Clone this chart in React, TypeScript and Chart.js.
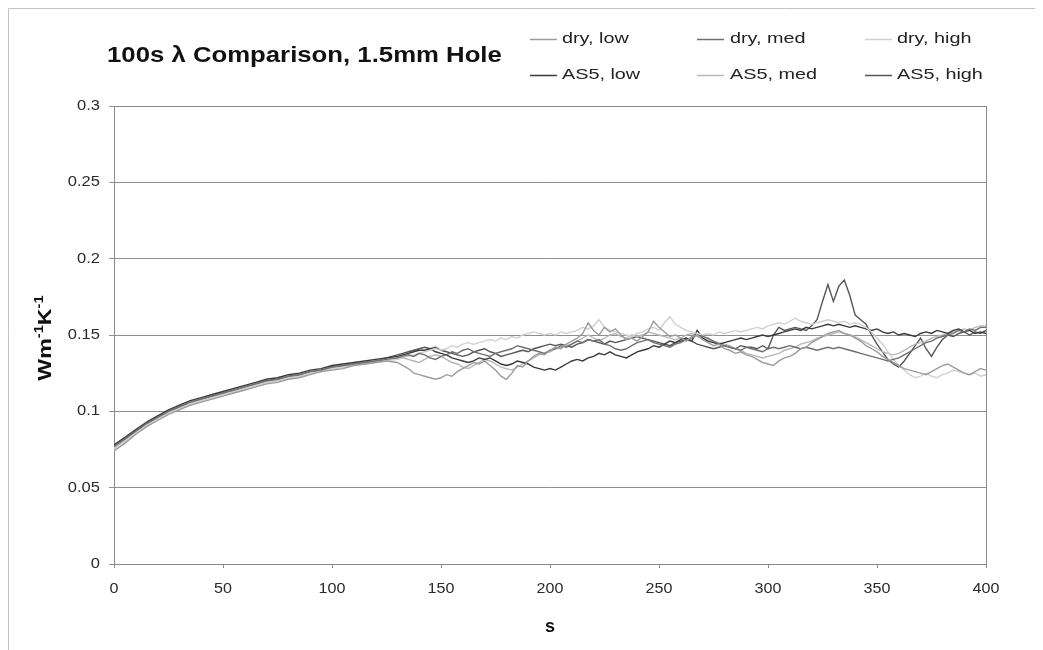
import { useEffect, useRef } from "react";
import { Chart, registerables } from "chart.js";

Chart.register(...registerables);

const chartTitle = "100s λ Comparison, 1.5mm Hole";
const xTitle = "s";
// y-axis unit: W m^-1 K^-1, drawn with raised exponents
const yTitleParts = [
  { text: "Wm", sup: false },
  { text: "-1", sup: true },
  { text: "K", sup: false },
  { text: "-1", sup: true },
];

// elapsed time (s): 5 s steps during the warm-up, 2.5 s steps afterwards
const seconds = [
  0, 5, 10, 15, 20, 25, 30, 35, 40, 45,
  50, 55, 60, 65, 70, 75, 80, 85, 90, 95,
  100, 105, 110, 115, 120, 125, 130,
  132.5, 135, 137.5, 140, 142.5, 145, 147.5, 150,
  152.5, 155, 157.5, 160, 162.5, 165, 167.5, 170,
  172.5, 175, 177.5, 180, 182.5, 185, 187.5, 190,
  192.5, 195, 197.5, 200, 202.5, 205, 207.5, 210,
  212.5, 215, 217.5, 220, 222.5, 225, 227.5, 230,
  232.5, 235, 237.5, 240, 242.5, 245, 247.5, 250,
  252.5, 255, 257.5, 260, 262.5, 265, 267.5, 270,
  272.5, 275, 277.5, 280, 282.5, 285, 287.5, 290,
  292.5, 295, 297.5, 300, 302.5, 305, 307.5, 310,
  312.5, 315, 317.5, 320, 322.5, 325, 327.5, 330,
  332.5, 335, 337.5, 340, 342.5, 345, 347.5, 350,
  352.5, 355, 357.5, 360, 362.5, 365, 367.5, 370,
  372.5, 375, 377.5, 380, 382.5, 385, 387.5, 390,
  392.5, 395, 397.5, 400,
];

// thermal conductivity (W m^-1 K^-1)
const dryLow = [
  0.074, 0.079, 0.085, 0.090, 0.094, 0.098, 0.101, 0.104, 0.106, 0.108,
  0.110, 0.112, 0.114, 0.116, 0.118, 0.119, 0.121, 0.122, 0.124, 0.126,
  0.127, 0.128, 0.130, 0.131, 0.132, 0.133, 0.132,
  0.130, 0.128, 0.125, 0.124, 0.123, 0.122, 0.121, 0.122,
  0.124, 0.123, 0.126, 0.128, 0.130, 0.132, 0.131, 0.133,
  0.130, 0.127, 0.123, 0.121, 0.125, 0.130, 0.129, 0.133,
  0.136, 0.138, 0.137, 0.140, 0.142, 0.141, 0.144, 0.146,
  0.148, 0.151, 0.158, 0.153, 0.150, 0.155, 0.152, 0.154,
  0.150, 0.147, 0.148, 0.146, 0.149, 0.152, 0.159, 0.155,
  0.152, 0.149, 0.150, 0.148, 0.146, 0.149, 0.150, 0.147,
  0.145, 0.143, 0.144, 0.141, 0.140, 0.138, 0.139, 0.137,
  0.136, 0.134, 0.132, 0.131, 0.130, 0.133, 0.135, 0.136,
  0.138, 0.141, 0.142, 0.145, 0.147, 0.149, 0.151, 0.152,
  0.153, 0.151, 0.150, 0.148, 0.146, 0.143, 0.141, 0.139,
  0.136, 0.134, 0.132, 0.130, 0.128, 0.127, 0.126, 0.125,
  0.124, 0.126, 0.128, 0.130, 0.131, 0.129, 0.127, 0.125,
  0.124, 0.126, 0.128, 0.127,
];

const dryMed = [
  0.077, 0.082, 0.087, 0.092, 0.096, 0.100, 0.103, 0.106, 0.108, 0.110,
  0.112, 0.114, 0.116, 0.118, 0.120, 0.121, 0.123, 0.124, 0.126, 0.127,
  0.129, 0.130, 0.131, 0.132, 0.133, 0.134, 0.135,
  0.136, 0.137, 0.136, 0.138, 0.137, 0.135, 0.134, 0.136,
  0.137, 0.139, 0.138, 0.140, 0.141, 0.139, 0.138, 0.137,
  0.136, 0.138, 0.139, 0.140, 0.141, 0.143, 0.142, 0.141,
  0.140, 0.139, 0.138, 0.140, 0.141, 0.143, 0.142, 0.144,
  0.146, 0.145, 0.147, 0.146, 0.147, 0.144, 0.143, 0.141,
  0.140, 0.141, 0.143, 0.145, 0.146, 0.147, 0.145, 0.144,
  0.143, 0.142, 0.144, 0.145, 0.147, 0.148, 0.150, 0.149,
  0.148, 0.146, 0.144, 0.143, 0.142, 0.141, 0.140, 0.142,
  0.141, 0.140, 0.139, 0.141, 0.142, 0.141, 0.142, 0.143,
  0.142, 0.141, 0.142, 0.141, 0.140, 0.141, 0.142, 0.141,
  0.142, 0.141, 0.140, 0.139, 0.138, 0.137, 0.136, 0.135,
  0.134, 0.133, 0.134, 0.135, 0.137, 0.139, 0.141, 0.143,
  0.145, 0.146, 0.148, 0.149, 0.150, 0.151, 0.153, 0.152,
  0.154, 0.153, 0.155, 0.155,
];

const dryHigh = [
  0.075, 0.080, 0.086, 0.091, 0.095, 0.099, 0.102, 0.105, 0.107, 0.109,
  0.111, 0.113, 0.115, 0.117, 0.119, 0.120, 0.122, 0.123, 0.125, 0.126,
  0.128, 0.129, 0.130, 0.131, 0.132, 0.133, 0.134,
  0.135, 0.136, 0.137, 0.138, 0.139, 0.140, 0.141, 0.140,
  0.141, 0.143, 0.142, 0.144, 0.145, 0.144, 0.145, 0.146,
  0.147, 0.146, 0.148, 0.147, 0.149, 0.148, 0.150, 0.151,
  0.152, 0.151, 0.150, 0.151, 0.150, 0.152, 0.151, 0.152,
  0.153, 0.155, 0.154, 0.156, 0.160, 0.155, 0.153, 0.152,
  0.151, 0.150, 0.149, 0.151, 0.152, 0.154, 0.155, 0.153,
  0.158, 0.162, 0.157, 0.155, 0.153, 0.152, 0.151, 0.150,
  0.151, 0.150, 0.152, 0.151, 0.152, 0.153, 0.152, 0.153,
  0.154, 0.155, 0.154, 0.156, 0.157, 0.158, 0.157, 0.159,
  0.161, 0.159, 0.158, 0.157, 0.158, 0.159, 0.160, 0.159,
  0.158, 0.159, 0.157, 0.158, 0.157, 0.155, 0.152, 0.148,
  0.144, 0.139, 0.134, 0.130, 0.127, 0.124, 0.122, 0.123,
  0.125, 0.123, 0.122, 0.124, 0.125, 0.127, 0.126, 0.125,
  0.124, 0.125, 0.123, 0.124,
];

const as5Low = [
  0.078, 0.083, 0.088, 0.093, 0.097, 0.101, 0.104, 0.107, 0.109, 0.111,
  0.113, 0.115, 0.117, 0.119, 0.121, 0.122, 0.124, 0.125, 0.127, 0.128,
  0.130, 0.131, 0.132, 0.133, 0.134, 0.135, 0.136,
  0.137, 0.138, 0.139, 0.140, 0.140, 0.141, 0.139, 0.138,
  0.137, 0.135, 0.134, 0.133, 0.132, 0.133, 0.135, 0.134,
  0.135, 0.133, 0.131, 0.130, 0.131, 0.133, 0.132, 0.131,
  0.129, 0.128, 0.127, 0.128, 0.127, 0.129, 0.131, 0.133,
  0.134, 0.133, 0.135, 0.136, 0.138, 0.137, 0.139, 0.137,
  0.136, 0.135, 0.137, 0.139, 0.140, 0.141, 0.143, 0.142,
  0.144, 0.146, 0.145, 0.147, 0.148, 0.146, 0.153, 0.148,
  0.146, 0.145, 0.144, 0.145, 0.146, 0.147, 0.148, 0.147,
  0.148, 0.149, 0.150, 0.149, 0.150, 0.151, 0.152, 0.153,
  0.154, 0.153, 0.155, 0.154, 0.155, 0.156, 0.157, 0.156,
  0.157, 0.156, 0.155, 0.156, 0.155, 0.154, 0.153, 0.154,
  0.152, 0.151, 0.152, 0.150, 0.151, 0.150, 0.149, 0.151,
  0.152, 0.151, 0.153, 0.152, 0.151, 0.153, 0.154, 0.152,
  0.153, 0.151, 0.152, 0.151,
];

const as5Med = [
  0.076, 0.081, 0.086, 0.091, 0.095, 0.099, 0.102, 0.105, 0.107, 0.109,
  0.111, 0.113, 0.115, 0.117, 0.119, 0.120, 0.122, 0.123, 0.125, 0.126,
  0.128, 0.129, 0.131, 0.132, 0.133, 0.134, 0.135,
  0.135, 0.134, 0.133, 0.132, 0.134, 0.136, 0.137, 0.136,
  0.134, 0.132, 0.131, 0.129, 0.128, 0.130, 0.132, 0.134,
  0.133, 0.131, 0.129, 0.128, 0.127, 0.129, 0.131, 0.133,
  0.135, 0.137, 0.138, 0.139, 0.141, 0.142, 0.143, 0.144,
  0.146, 0.148, 0.150, 0.148, 0.146, 0.148, 0.150, 0.151,
  0.149, 0.148, 0.150, 0.149, 0.150, 0.152, 0.151, 0.150,
  0.149, 0.148, 0.147, 0.148, 0.150, 0.151, 0.149, 0.148,
  0.147, 0.146, 0.145, 0.144, 0.143, 0.141, 0.140, 0.138,
  0.137, 0.136, 0.135, 0.136, 0.137, 0.138, 0.140, 0.141,
  0.142, 0.144, 0.145, 0.146, 0.148, 0.149, 0.150, 0.151,
  0.152, 0.151, 0.150, 0.149, 0.147, 0.145, 0.143, 0.141,
  0.139, 0.138, 0.137, 0.138, 0.140, 0.142, 0.144, 0.145,
  0.146, 0.148, 0.149, 0.150, 0.151, 0.152, 0.153, 0.154,
  0.153, 0.155, 0.156, 0.156,
];

const as5High = [
  0.077, 0.082, 0.087, 0.092, 0.096, 0.100, 0.103, 0.106, 0.108, 0.110,
  0.112, 0.114, 0.116, 0.118, 0.120, 0.121, 0.123, 0.124, 0.126, 0.127,
  0.129, 0.130, 0.131, 0.132, 0.133, 0.135, 0.137,
  0.138, 0.139, 0.140, 0.141, 0.142, 0.141, 0.142, 0.140,
  0.139, 0.138, 0.137, 0.136, 0.137, 0.139, 0.140, 0.141,
  0.139, 0.138, 0.136, 0.137, 0.138, 0.139, 0.140, 0.139,
  0.141, 0.142, 0.143, 0.144, 0.143, 0.144, 0.143, 0.142,
  0.144, 0.145, 0.147, 0.146, 0.145, 0.144, 0.146, 0.145,
  0.146, 0.147, 0.148, 0.149, 0.148, 0.147, 0.146, 0.145,
  0.144, 0.143, 0.145, 0.146, 0.147, 0.146, 0.144, 0.143,
  0.142, 0.141, 0.142, 0.143, 0.142, 0.141, 0.143, 0.142,
  0.142, 0.141, 0.143, 0.141, 0.150, 0.155, 0.153, 0.154,
  0.155, 0.154, 0.153, 0.156, 0.160, 0.172, 0.183, 0.172,
  0.182, 0.186, 0.176, 0.163, 0.160, 0.157, 0.150, 0.144,
  0.139, 0.134, 0.131, 0.129, 0.133, 0.138, 0.143, 0.148,
  0.141, 0.136, 0.142, 0.147, 0.150, 0.149, 0.151, 0.152,
  0.150, 0.152, 0.151, 0.153,
];

const seriesLabels = ["dry, low", "dry, med", "dry, high", "AS5, low", "AS5, med", "AS5, high"];
const seriesValues = [dryLow, dryMed, dryHigh, as5Low, as5Med, as5High];
const seriesColors = ["#9c9c9c", "#707070", "#d0d0d0", "#3a3a3a", "#b8b8b8", "#555555"];

const yTicks = [0, 0.05, 0.1, 0.15, 0.2, 0.25, 0.3];
const xTicks = [0, 50, 100, 150, 200, 250, 300, 350, 400];

const FONT = "'Liberation Sans', Arial, Helvetica, sans-serif";

// text drawn with a horizontal stretch along its own baseline
function wideText(ctx: CanvasRenderingContext2D, text: string, x: number, y: number, sx: number, align: CanvasTextAlign) {
  ctx.save();
  ctx.translate(x, y);
  ctx.scale(sx, 1);
  ctx.textAlign = align;
  ctx.fillText(text, 0, 0);
  ctx.restore();
}

// frame around the plot area, drawn under the lines
const plotFrame = {
  id: "plotFrame",
  beforeDatasetsDraw(chart: any) {
    const { ctx, chartArea: a } = chart;
    ctx.save();
    ctx.strokeStyle = "#8a8a8a";
    ctx.lineWidth = 1;
    ctx.strokeRect(Math.round(a.left) + 0.5, Math.round(a.top) + 0.5, Math.round(a.right - a.left), Math.round(a.bottom - a.top));
    ctx.restore();
  },
};

// tick labels and axis titles, set in the wide face
const axisText = {
  id: "axisText",
  afterDraw(chart: any) {
    const { ctx, chartArea: a } = chart;
    const xs = chart.scales.x;
    const ys = chart.scales.y;
    ctx.save();
    ctx.fillStyle = "#2a2a2a";
    ctx.textBaseline = "middle";
    ctx.font = `14px ${FONT}`;
    ys.ticks.forEach((t: any) => {
      wideText(ctx, String(t.label), a.left - 14, ys.getPixelForValue(t.value), 1.18, "right");
    });
    xs.ticks.forEach((t: any) => {
      wideText(ctx, String(t.label), xs.getPixelForValue(t.value), a.bottom + 25, 1.15, "center");
    });

    ctx.fillStyle = "#111";
    ctx.font = `bold 18px ${FONT}`;
    wideText(ctx, xTitle, (a.left + a.right) / 2, a.bottom + 63, 1.0, "center");

    // rotated y title with superscripts
    const sx = 1.22;
    const base = `bold 19px ${FONT}`;
    const small = `bold 12px ${FONT}`;
    let total = 0;
    yTitleParts.forEach((p) => {
      ctx.font = p.sup ? small : base;
      total += ctx.measureText(p.text).width;
    });
    ctx.save();
    ctx.translate(38, (a.top + a.bottom) / 2 + 3);
    ctx.rotate(-Math.PI / 2);
    ctx.scale(sx, 1);
    ctx.textAlign = "left";
    let cx = -total / 2;
    yTitleParts.forEach((p) => {
      ctx.font = p.sup ? small : base;
      ctx.fillText(p.text, cx, p.sup ? -6 : 0);
      cx += ctx.measureText(p.text).width;
    });
    ctx.restore();
    ctx.restore();
  },
};

// outer border, heading and the three-column key
const heading = {
  id: "heading",
  afterDraw(chart: any) {
    const { ctx } = chart;
    ctx.save();
    ctx.strokeStyle = "#c2c2c2";
    ctx.lineWidth = 1;
    ctx.beginPath();
    ctx.moveTo(0.5, chart.height);
    ctx.lineTo(0.5, 0.5);
    ctx.lineTo(chart.width, 0.5);
    ctx.stroke();

    ctx.fillStyle = "#111";
    ctx.textBaseline = "middle";
    ctx.font = `bold 22px ${FONT}`;
    wideText(ctx, chartTitle, 99, 48, 1.17, "left");

    const cols = [
      { lx: 522, tx: 554 },
      { lx: 689, tx: 722 },
      { lx: 857, tx: 889 },
    ];
    const rows = [31, 67];
    ctx.font = `15px ${FONT}`;
    chart.data.datasets.forEach((ds: any, i: number) => {
      const c = cols[i % 3];
      const y = rows[Math.floor(i / 3)];
      ctx.strokeStyle = ds.borderColor;
      ctx.lineWidth = 1.5;
      ctx.beginPath();
      ctx.moveTo(c.lx, y + 0.5);
      ctx.lineTo(c.lx + 27, y + 0.5);
      ctx.stroke();
      ctx.fillStyle = "#222";
      wideText(ctx, ds.label, c.tx, y, 1.32, "left");
    });
    ctx.restore();
  },
};

export default function App() {
  const canvasRef = useRef<HTMLCanvasElement | null>(null);

  useEffect(() => {
    if (!canvasRef.current) return;
    const chart = new Chart(canvasRef.current, {
      type: "line",
      data: {
        labels: seconds,
        datasets: seriesLabels.map((label, i) => ({
          label,
          data: seconds.map((s, j) => ({ x: s, y: seriesValues[i][j] })),
          borderColor: seriesColors[i],
          backgroundColor: seriesColors[i],
          borderWidth: 1.4,
          pointRadius: 0,
          tension: 0,
          fill: false,
        })),
      },
      options: {
        animation: false,
        responsive: true,
        maintainAspectRatio: false,
        layout: { padding: { left: 0, top: 98, right: 57, bottom: 0 } },
        plugins: {
          legend: { display: false },
          title: { display: false },
          tooltip: { enabled: false },
        },
        scales: {
          x: {
            type: "linear",
            min: 0,
            max: 400,
            afterBuildTicks: (scale: any) => {
              scale.ticks = xTicks.map((v) => ({ value: v }));
            },
            afterFit: (scale: any) => {
              scale.height = 86;
            },
            grid: { display: true, drawOnChartArea: false, drawTicks: true, tickLength: 4, color: "#8a8a8a" },
            border: { display: true, color: "#8a8a8a" },
            ticks: { display: false, callback: (v: any) => String(Number(v)) },
          },
          y: {
            type: "linear",
            min: 0,
            max: 0.3,
            afterBuildTicks: (scale: any) => {
              scale.ticks = yTicks.map((v) => ({ value: v }));
            },
            afterFit: (scale: any) => {
              scale.width = 106;
            },
            grid: { color: "#8f8f8f", lineWidth: 1, tickLength: 5, drawTicks: true },
            border: { display: true, color: "#8a8a8a" },
            ticks: { display: false, callback: (v: any) => String(Number(v)) },
          },
        },
      },
      plugins: [plotFrame, axisText, heading],
    });
    return () => chart.destroy();
  }, []);

  return (
    <div style={{ position: "relative", width: 1035, height: 642, background: "#fff" }}>
      <canvas ref={canvasRef} />
    </div>
  );
}
